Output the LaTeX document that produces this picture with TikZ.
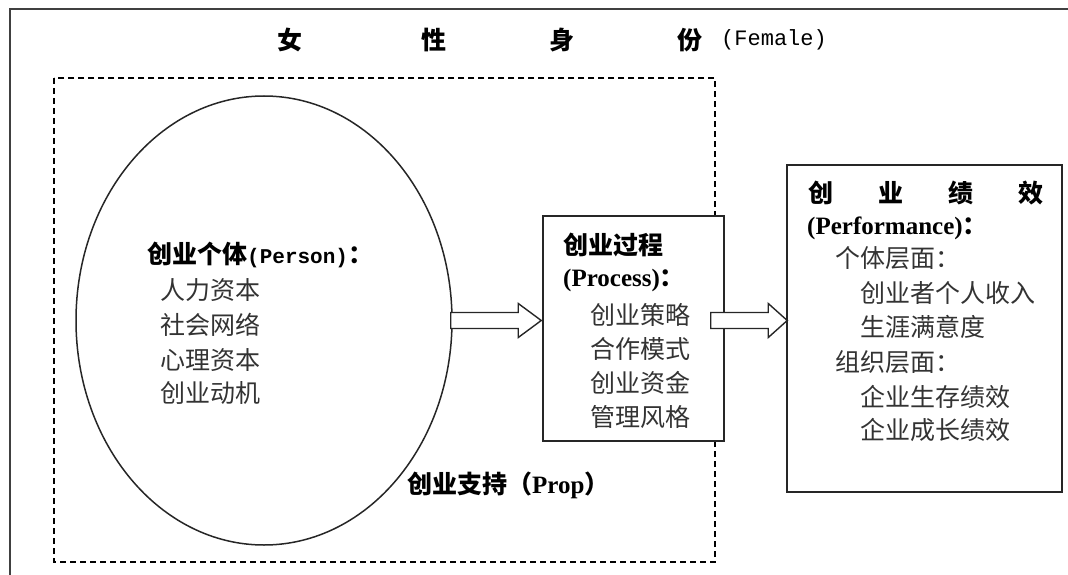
\documentclass[tikz,border=0pt]{standalone}
\usepackage{fontspec}
\newfontfamily\cjk{Noto Sans CJK SC}
\newfontfamily\tms{Liberation Serif}
\newfontfamily\mono{Liberation Mono}
\usetikzlibrary{shapes.geometric,calc}
\begin{document}
\begin{tikzpicture}[x=1pt,y=-1pt,
  frameline/.style={line width=2.4pt,draw=black!75},
  dashbox/.style={line width=1.6pt,dash pattern=on 6pt off 4pt},
  shapeline/.style={line width=1.5pt,draw=black!85},
  barrow/.style={line width=1.4pt,draw=black!85,fill=white,line join=miter},
  hd/.style={anchor=west,inner sep=0pt,font=\cjk\bfseries\fontsize{25}{25}\selectfont},
  it/.style={anchor=west,inner sep=0pt,text=black!80,font=\cjk\fontsize{25}{25}\selectfont},
  ttl/.style={inner sep=0pt,font=\cjk\bfseries\fontsize{25}{25}\selectfont}]
\useasboundingbox (0,0) rectangle (1068,575);
% outer frame (open to the right and bottom)
\coordinate (fl) at (10,575);
\coordinate (fc) at (10,9);
\coordinate (fr) at (1068,9);
\draw[frameline] (fl) -- (fc) -- (fr);
% title
\node[ttl] (t1) at (290,40) {女};
\node[ttl] (t2) at (434,40) {性};
\node[ttl] (t3) at (562,40) {身};
\node[ttl] (t4) at (690,40) {份};
\node[anchor=west,inner sep=0pt,font=\mono\fontsize{22}{22}\selectfont] (t5) at (721,40) {(Female)};
% dashed support box
\draw[dashbox] (54,78) rectangle (715,562);
% shapes
\node[ellipse,shapeline,minimum width=376pt,minimum height=449pt,inner sep=0pt] (ell) at (264,320.5) {};
\node[rectangle,shapeline,fill=white,minimum width=181pt,minimum height=225pt,inner sep=0pt] (proc) at (633.5,328.5) {};
\node[rectangle,shapeline,minimum width=275pt,minimum height=327pt,inner sep=0pt] (perf) at (924.5,328.5) {};
% block arrows
\coordinate (a1t) at (ell.east -| proc.west);
\draw[barrow] ($(ell.east)+(-2,-8)$) -- ($(a1t)+(-24,-8)$) -- ($(a1t)+(-24,-17)$) -- ($(a1t)+(-1,0)$)
  -- ($(a1t)+(-24,17)$) -- ($(a1t)+(-24,8)$) -- ($(ell.east)+(-2,8)$) -- cycle;
\coordinate (a2s) at (ell.east -| proc.east);
\coordinate (a2t) at (ell.east -| perf.west);
\draw[barrow] ($(a2s)+(-14,-8)$) -- ($(a2t)+(-18,-8)$) -- ($(a2t)+(-18,-17)$) -- ($(a2t)+(1,0)$)
  -- ($(a2t)+(-18,17)$) -- ($(a2t)+(-18,8)$) -- ($(a2s)+(-14,8)$) -- cycle;
% person texts
\node[hd] (ph) at (147,255) {创业个体{\mono\bfseries\fontsize{21}{21}\selectfont (Person)}：};
\node[it] (p1) at (160,290) {人力资本};
\node[it] (p2) at (160,325) {社会网络};
\node[it] (p3) at (160,360) {心理资本};
\node[it] (p4) at (160,393) {创业动机};
% process texts
\node[hd] (rh) at (563,245) {创业过程};
\node[hd] (rh2) at (563,280) {{\tms\bfseries (Process)}：};
\node[it] (r1) at (590,315) {创业策略};
\node[it] (r2) at (590,349) {合作模式};
\node[it] (r3) at (590,383) {创业资金};
\node[it] (r4) at (590,417) {管理风格};
% performance texts
\node[hd] (fh) at (808,193) {创\hspace{45pt}业\hspace{45pt}绩\hspace{45pt}效};
\node[hd] (fh2) at (807,228) {{\tms\bfseries (Performance)}：};
\node[it] (f1) at (835,258) {个体层面：};
\node[it] (f2) at (860,293) {创业者个人收入};
\node[it] (f3) at (860,327) {生涯满意度};
\node[it] (f4) at (835,362) {组织层面：};
\node[it] (f5) at (860,397) {企业生存绩效};
\node[it] (f6) at (860,430) {企业成长绩效};
% support label
\node[hd] (sp) at (407,485) {创业支持（{\tms\bfseries Prop}）};
\end{tikzpicture}
\end{document}
